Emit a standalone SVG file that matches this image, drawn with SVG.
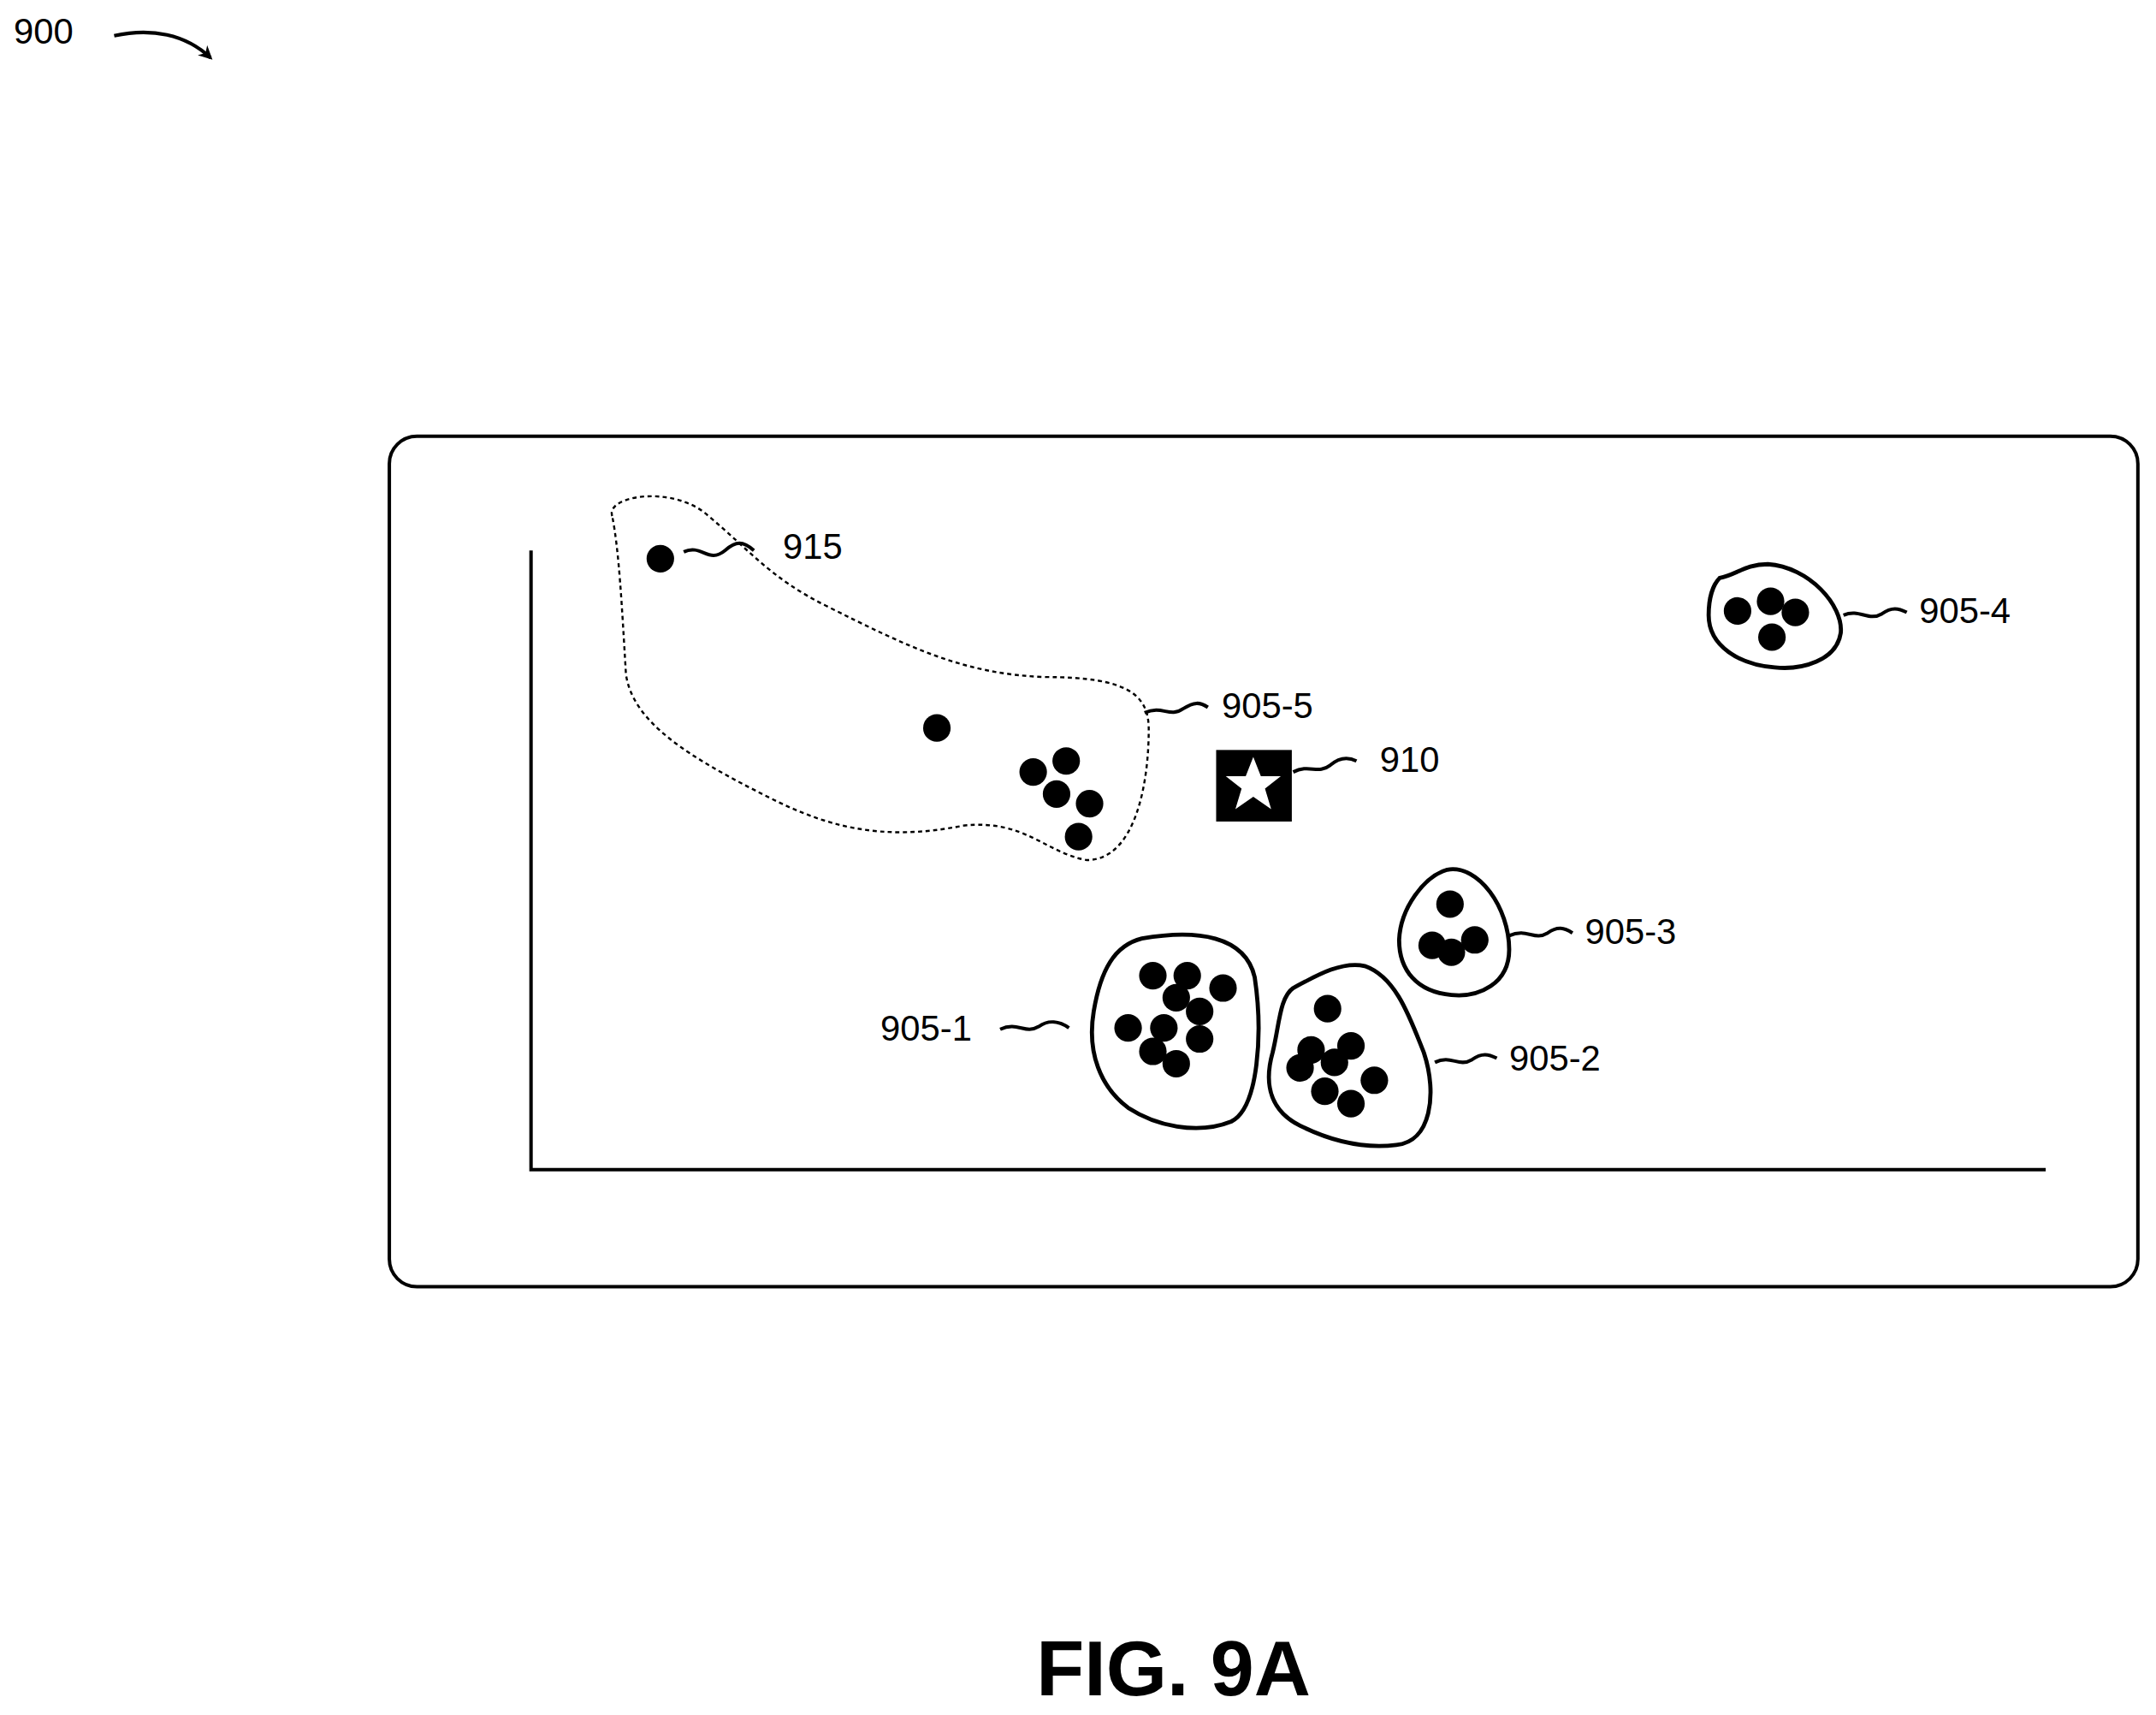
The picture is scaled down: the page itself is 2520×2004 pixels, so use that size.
<svg xmlns="http://www.w3.org/2000/svg" width="2520" height="2004" viewBox="0 0 2520 2004">
<style>
text{font-family:"Liberation Sans",Arial,sans-serif;font-size:26px;fill:#000}
.ln{fill:none;stroke:#000;stroke-width:2.5}
.bl{fill:none;stroke:#000;stroke-width:3}
.dot{fill:#000}
</style>
<defs><marker id="ah" markerWidth="10" markerHeight="10" refX="8" refY="5" orient="auto" markerUnits="userSpaceOnUse"><path d="M0,0 L10,5 L0,10 L3,5 Z" fill="#000"/></marker></defs>
<rect width="2520" height="2004" fill="#fff"/>
<g transform="scale(1.608)">
<g id="ref900"><text x="10" y="32">900</text><path class="ln" d="M83,26 C110,20 135,25 153,42" marker-end="url(#ah)"/></g>
<g id="frame"><rect x="283" y="317" width="1271" height="618" rx="20" class="ln"/>
<path class="ln" d="M386,400 V850 H1487"/></g>
<g id="n905-5"><path d="M445,375 C440,360 490,352 515,375 C545,400 560,420 600,440 C660,470 700,490 760,492 C820,492 835,505 835,530 C835,570 825,625 790,625 C760,620 745,595 700,600 C640,612 600,600 560,580 C500,550 460,525 455,490 C452,440 450,400 445,375 Z" fill="none" stroke="#000" stroke-width="1.5" stroke-dasharray="3,2.5"/>
<circle class="dot" cx="681" cy="529" r="10"/><circle class="dot" cx="751" cy="561" r="10"/><circle class="dot" cx="775" cy="553" r="10"/><circle class="dot" cx="768" cy="577" r="10"/><circle class="dot" cx="792" cy="584" r="10"/><circle class="dot" cx="784" cy="608" r="10"/>
<text x="888" y="522">905-5</text></g>
<g id="n915"><circle class="dot" cx="480" cy="406" r="10"/><text x="569" y="406">915</text></g>
<g id="n910"><rect x="884" y="545" width="55" height="52" fill="#000"/>
<polygon fill="#fff" points="911,550 916.5,564 931,564 919.5,573 924,588 911,579 898,588 902.5,573 891,564 905.5,564"/><text x="1003" y="561">910</text></g>
<g id="n905-4"><path class="bl" d="M1250,420 C1262,418 1268,410 1285,410 C1315,412 1340,440 1338,460 C1335,480 1310,487 1290,485 C1265,483 1242,470 1242,447 C1242,435 1245,425 1250,420 Z"/>
<circle class="dot" cx="1263" cy="444" r="10"/><circle class="dot" cx="1287" cy="437" r="10"/><circle class="dot" cx="1305" cy="445" r="10"/><circle class="dot" cx="1288" cy="463" r="10"/><text x="1395" y="453">905-4</text></g>
<g id="n905-3"><path class="bl" d="M1052,632 C1075,628 1097,660 1097,690 C1097,715 1075,725 1055,723 C1030,721 1017,705 1017,683 C1018,660 1035,637 1052,632 Z"/>
<circle class="dot" cx="1054" cy="657" r="10"/><circle class="dot" cx="1041" cy="687" r="10"/><circle class="dot" cx="1055" cy="692" r="10"/><circle class="dot" cx="1072" cy="683" r="10"/><text x="1152" y="686">905-3</text></g>
<g id="n905-1"><path class="bl" d="M830,682 C870,675 905,680 912,710 C918,750 915,805 895,815 C870,825 840,818 820,805 C800,790 790,765 795,735 C800,705 810,687 830,682 Z"/>
<circle class="dot" cx="838" cy="709" r="10"/><circle class="dot" cx="863" cy="709" r="10"/><circle class="dot" cx="889" cy="718" r="10"/><circle class="dot" cx="855" cy="725" r="10"/><circle class="dot" cx="872" cy="735" r="10"/><circle class="dot" cx="820" cy="747" r="10"/><circle class="dot" cx="846" cy="747" r="10"/><circle class="dot" cx="872" cy="755" r="10"/><circle class="dot" cx="838" cy="764" r="10"/><circle class="dot" cx="855" cy="773" r="10"/>
<text x="640" y="756">905-1</text></g>
<g id="n905-2"><path class="bl" d="M940,718 C955,710 975,698 992,702 C1015,710 1025,740 1035,765 C1045,795 1040,830 1015,832 C990,835 965,828 945,818 C925,808 918,790 925,765 C930,745 930,725 940,718 Z"/>
<circle class="dot" cx="965" cy="733" r="10"/><circle class="dot" cx="953" cy="763" r="10"/><circle class="dot" cx="982" cy="760" r="10"/><circle class="dot" cx="970" cy="772" r="10"/><circle class="dot" cx="945" cy="776" r="10"/><circle class="dot" cx="963" cy="793" r="10"/><circle class="dot" cx="982" cy="802" r="10"/><circle class="dot" cx="999" cy="785" r="10"/>
<text x="1097" y="778">905-2</text></g>
<g id="connectors">
<path class="ln" d="M497,401 C510,395 515,410 527,400 C535,393 540,393 548,400"/>
<path class="ln" d="M832,518 C845,512 850,522 860,515 C868,510 872,510 878,514"/>
<path class="ln" d="M940,561 C952,555 958,563 967,556 C974,550 980,550 986,553"/>
<path class="ln" d="M1340,447 C1352,442 1358,452 1368,446 C1375,441 1380,442 1386,445"/>
<path class="ln" d="M1097,680 C1110,674 1115,684 1125,678 C1132,673 1137,674 1143,678"/>
<path class="ln" d="M727,748 C740,742 745,752 755,746 C762,741 770,742 777,747"/>
<path class="ln" d="M1043,772 C1055,766 1060,776 1070,770 C1077,765 1082,766 1088,769"/>
</g>
<text x="853" y="1232" text-anchor="middle" style="font-size:57px;font-weight:bold">FIG. 9A</text>
</g>
</svg>
